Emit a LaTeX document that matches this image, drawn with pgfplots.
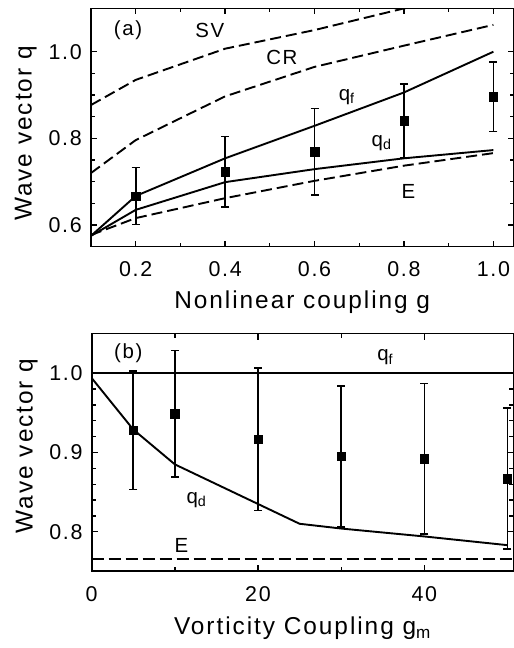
\documentclass[border=0pt]{standalone}
\usepackage{fontspec}
\setmainfont{Liberation Sans}[LetterSpace=8]
\usepackage{pgfplots}
\pgfplotsset{compat=1.18}
\begin{document}
\begin{tikzpicture}
\path[use as bounding box] (0,0) rectangle (514bp,648bp);
\tikzset{annot/.style={font=\fontsize{20.5}{24}\selectfont}}
\pgfplotsset{
  common/.style={
    scale only axis,
    axis line style={line width=1.6bp},
    tick align=inside,
    major tick length=6bp, minor tick length=4bp,
    every tick/.style={line width=1.3bp, black},
    tick label style={font=\fontsize{21.5}{24}\selectfont},
    label style={font=\fontsize{24.5}{28}\selectfont},
    /pgf/number format/assume math mode=true,
    xticklabel style={anchor=base, yshift=-30bp},
    yticklabel style={anchor=east, inner sep=0pt, xshift=-9bp},
    ylabel style={anchor=base, rotate=0},
    xlabel style={anchor=base},
    every axis plot/.append style={black},
  },
  solidl/.style={line width=1.9bp, black, mark=none},
  dashl/.style={line width=1.9bp, black, mark=none, dash pattern=on 11bp off 5bp},
  datapts/.style={only marks, mark=square*, mark size=4.2bp, black,
    error bars/.cd, y dir=both, y explicit,
    error bar style={line width=1.6bp, black},
    error mark options={rotate=90, mark size=4bp, line width=1.5bp, black}},
}
% ---------------- panel (a)
\begin{axis}[common,
  at={(91bp,401.3bp)}, anchor=south west,
  width=422.5bp, height=238.3bp,
  xmin=0.1, xmax=1.045, ymin=0.55, ymax=1.1,
  xtick={0.2,0.4,0.6,0.8,1.0}, minor x tick num=1,
  ytick={0.6,0.8,1.0}, minor y tick num=3,
  xticklabel style={/pgf/number format/.cd, fixed, fixed zerofill, precision=1},
  yticklabel style={/pgf/number format/.cd, fixed, fixed zerofill, precision=1},
  xlabel={Nonlinear coupling g},
  ylabel={Wave vector q},
  xlabel style={at={(axis description cs:0.5,-0.2585)}},
  ylabel style={at={(axis description cs:-0.1404,0.475)}, rotate=0},
]
\addplot[dashl] coordinates {(0.1,0.877) (0.2,0.935) (0.4,1.007) (0.6,1.05) (0.8,1.10) (1.0,1.14)};
\addplot[dashl] coordinates {(0.1,0.72) (0.2,0.796) (0.4,0.897) (0.6,0.965) (0.8,1.014) (1.0,1.062)};
\addplot[solidl] coordinates {(0.1,0.575) (0.2,0.667) (0.4,0.754) (0.6,0.829) (0.8,0.906) (1.0,1.0)};
\addplot[solidl] coordinates {(0.1,0.575) (0.2,0.635) (0.4,0.699) (0.6,0.729) (0.8,0.754) (1.0,0.773)};
\addplot[dashl] coordinates {(0.1,0.577) (0.2,0.616) (0.4,0.662) (0.6,0.702) (0.8,0.737) (1.0,0.766)};
\addplot[datapts] coordinates {
  (0.2,0.667) +- (0,0.066)
  (0.4,0.723) +- (0,0.081)
  (0.6,0.769) +- (0,0.100)
  (0.8,0.841) +- (0,0.085)
  (1.0,0.896) +- (0,0.080)
};
\node[annot] at (axis cs:0.183,1.05) {(a)};
\node[annot] at (axis cs:0.366,1.05) {SV};
\node[annot] at (axis cs:0.527,0.987) {CR};
\node[annot] at (axis cs:0.672,0.896) {q\textsubscript{f}};
\node[annot] at (axis cs:0.75,0.789) {q\textsubscript{d}};
\node[annot] at (axis cs:0.81,0.677) {E};
\end{axis}
% ---------------- panel (b)
\begin{axis}[common,
  at={(91.7bp,76.7bp)}, anchor=south west,
  width=421.6bp, height=237.6bp,
  xmin=0, xmax=50.7, ymin=0.75, ymax=1.05,
  xtick={0,20,40}, minor x tick num=1,
  ytick={0.8,0.9,1.0}, minor y tick num=4,
  yticklabel style={/pgf/number format/.cd, fixed, fixed zerofill, precision=1},
  xlabel={Vorticity Coupling g\textsubscript{m}},
  ylabel={Wave vector q},
  xlabel style={at={(axis description cs:0.5,-0.268)}},
  ylabel style={at={(axis description cs:-0.1403,0.528)}, rotate=0},
]
\addplot[solidl] coordinates {(0,1.0) (50.7,1.0)};
\addplot[solidl] coordinates {(0,0.994) (5,0.929) (10,0.885) (20,0.835) (25,0.81) (30,0.804) (40,0.794) (50,0.783)};
\addplot[dashl, dash pattern=on 12bp off 5bp] coordinates {(0,0.765) (50.7,0.765)};
\addplot[datapts] coordinates {
  (5,0.928) +- (0,0.075)
  (10,0.949) +- (0,0.080)
  (20,0.917) +- (0,0.090)
  (30,0.895) +- (0,0.089)
  (40,0.892) +- (0,0.095)
  (50,0.867) +- (0,0.089)
};
\node[annot] at (axis cs:4.4,1.025) {(b)};
\node[annot] at (axis cs:35.3,1.02) {q\textsubscript{f}};
\node[annot] at (axis cs:12.6,0.84) {q\textsubscript{d}};
\node[annot] at (axis cs:10.8,0.783) {E};
\end{axis}
\end{tikzpicture}
\end{document}
